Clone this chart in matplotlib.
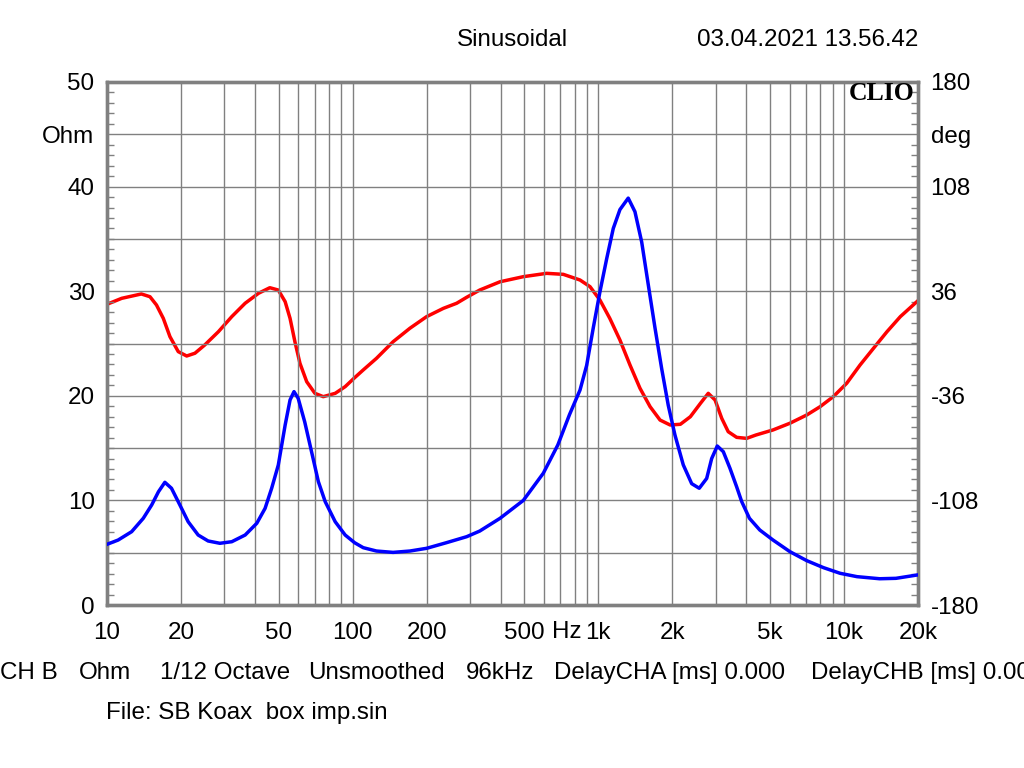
import matplotlib
matplotlib.use("Agg")
import matplotlib.pyplot as plt
from matplotlib.ticker import LogLocator, NullFormatter, FixedLocator, MultipleLocator

plt.rcParams['font.family'] = ['Liberation Sans', 'DejaVu Sans']

# Impedance magnitude (Ohm) - blue
imp_freq = [10.0, 11.1, 12.6, 14.05, 15.2, 16.2, 17.2, 18.3, 19.8, 21.4, 23.5, 25.8, 28.8,
            32.2, 36.5, 40.7, 44.0, 46.8, 49.8, 53.1, 55.6, 57.7, 60.0, 63.8, 68.0, 72.5,
            77.3, 84.9, 93.2, 101.9, 110.4, 125, 146, 171, 200, 241, 291, 329, 398, 495,
            597, 684, 763, 842, 896, 953.5, 1015, 1081, 1150, 1224, 1323, 1409, 1501, 1597,
            1700, 1810, 1925, 2050, 2216, 2398, 2574, 2760, 2892, 3048, 3225, 3433, 3655,
            3830, 4120, 4540, 5140, 6020, 7050, 8250, 9640, 11290, 13960, 16260, 20000]
imp_ohm = [5.80, 6.21, 7.01, 8.29, 9.56, 10.83, 11.73, 11.16, 9.56, 7.96, 6.69, 6.12, 5.90,
           6.05, 6.69, 7.81, 9.24, 11.16, 13.38, 17.2, 19.6, 20.4, 19.76, 17.5, 14.66, 11.79,
           9.88, 7.96, 6.69, 5.95, 5.48, 5.16, 5.03, 5.16, 5.42, 5.96, 6.53, 7.07, 8.29, 10.0,
           12.6, 15.3, 18.2, 20.55, 22.9, 26.5, 29.95, 33.1, 36.0, 37.8, 38.9, 37.6, 34.7, 30.6,
           26.5, 22.6, 19.1, 16.25, 13.4, 11.6, 11.16, 12.1, 14.0, 15.2, 14.66, 13.07, 11.3,
           9.9, 8.29, 7.17, 6.21, 5.10, 4.24, 3.57, 3.03, 2.71, 2.51, 2.55, 2.88]

# Impedance phase (deg) - red
ph_freq = [10, 11.48, 13.8, 14.96, 15.9, 16.95, 18.04, 19.5, 21.1, 22.8, 25.0, 28.4, 32.2,
           36.5, 41.4, 46.0, 49.8, 53.1, 55.6, 58.2, 61.0, 65.0, 70.2, 75.9, 84.9, 93.2,
           101.9, 110.4, 125, 146, 171, 200, 234, 265, 291, 329, 398, 495, 616, 720, 842,
           925, 1015, 1113, 1224, 1345, 1477, 1624, 1783, 1960, 2157, 2368, 2603, 2801,
           2986, 3178, 3377, 3655, 4013, 4377, 5140, 6020, 7050, 7990, 9040, 10250, 11620,
           13180, 14950, 16950, 20000]
ph_deg = [27.0, 31.1, 34.1, 32.2, 26.5, 17.3, 4.7, -5.6, -8.6, -6.7, -1.0, 8.1, 18.5,
          27.7, 34.6, 38.4, 36.8, 28.8, 17.3, 1.2, -13.6, -26.3, -34.3, -36.6, -34.3, -29.7,
          -23.5, -18.2, -10.2, 1.2, 10.5, 18.5, 24.2, 27.7, 31.8, 36.8, 42.5, 46.0, 48.3, 47.6, 43.7,
          39.1, 29.9, 17.3, 2.4, -14.8, -30.8, -43.5, -52.7, -56.1, -55.6, -50.4, -41.2, -34.3,
          -38.9, -51.5, -60.7, -64.6, -65.3, -63.0, -59.5, -54.9, -49.2, -43.5, -36.6, -27.4, -14.8,
          -3.3, 8.1, 18.5, 29.5]

x_ticks = [10, 20, 50, 100, 200, 500, 1000, 2000, 5000, 10000, 20000]
x_labels = ['10', '20', '50', '100', '200', '500', '1k', '2k', '5k', '10k', '20k']
left_ticks = [0, 10, 20, 30, 40, 45, 50]
left_labels = ['0', '10', '20', '30', '40', 'Ohm', '50']
right_ticks = [-180, -108, -36, 36, 108, 144, 180]
right_labels = ['-180', '-108', '-36', '36', '108', 'deg', '180']

GREY = '#808080'
FS = 17.4

fig = plt.figure(figsize=(10.24, 7.68), dpi=100)
ax = fig.add_axes([107/1024, 1-605/768, (918-107)/1024, (605-82)/768])
ax2 = ax.twinx()

ax.set_xscale('log')
ax.set_xlim(10, 20000)
ax.set_ylim(0, 50)
ax2.set_ylim(-180, 180)

# grid
ax.xaxis.set_major_locator(FixedLocator(x_ticks))
ax.xaxis.set_minor_locator(LogLocator(base=10, subs=range(1, 10), numticks=20))
ax.xaxis.set_minor_formatter(NullFormatter())
ax.set_xticklabels(x_labels)
ax.grid(True, which='both', axis='x', color=GREY, linewidth=1.0)
for yv in range(5, 50, 5):
    ax.axhline(yv, color=GREY, linewidth=1.0, zorder=0.5)

ax.set_yticks(left_ticks)
ax.set_yticklabels(left_labels)
ax.yaxis.set_minor_locator(MultipleLocator(1))
ax.tick_params(axis='y', which='major', length=0, pad=9, labelsize=FS)
ax.tick_params(axis='y', which='minor', direction='in', length=5, color=GREY, width=1)
ax.tick_params(axis='x', which='both', length=0, pad=12, labelsize=FS)

ax2.set_yticks(right_ticks)
ax2.set_yticklabels(right_labels)
ax2.yaxis.set_minor_locator(MultipleLocator(7.2))
ax2.tick_params(axis='y', which='major', length=0, pad=9, labelsize=FS)
ax2.tick_params(axis='y', which='minor', direction='in', length=5, color=GREY, width=1)

for a in (ax, ax2):
    for s in a.spines.values():
        s.set_color(GREY)
        s.set_linewidth(2.4)

ax.plot(imp_freq, imp_ohm, color='#0000ff', linewidth=2.5, zorder=3, clip_on=True,
        solid_joinstyle='round')
ax2.plot(ph_freq, ph_deg, color='#ff0000', linewidth=2.5, zorder=3, clip_on=True,
         solid_joinstyle='round')

ax.set_zorder(ax2.get_zorder() + 1)
ax.patch.set_visible(False)

# texts
fig.text(512/1024, 1-40/768, 'Sinusoidal', ha='center', va='center', fontsize=FS)
fig.text(918/1024, 1-40/768, '03.04.2021 13.56.42', ha='right', va='center', fontsize=FS)
fig.text(915/1024, 1-93/768, 'CLIO', ha='right', va='center', fontsize=18.5,
         family='Liberation Serif', fontweight='bold')
fig.text(552/1024, 1-632/768, 'Hz', ha='left', va='center', fontsize=FS)

info = [(0, 'CH B'), (79, 'Ohm'), (160, '1/12 Octave'), (308, 'Unsmoothed'),
        (466, '96kHz'), (554, 'DelayCHA [ms] 0.000'), (811, 'DelayCHB [ms] 0.000')]
for xp, t in info:
    fig.text(xp/1024, 1-673/768, t, ha='left', va='center', fontsize=FS)
fig.text(106/1024, 1-713/768, 'File: SB Koax  box imp.sin', ha='left', va='center', fontsize=FS)

fig.savefig('out.png', dpi=100, facecolor='white')
